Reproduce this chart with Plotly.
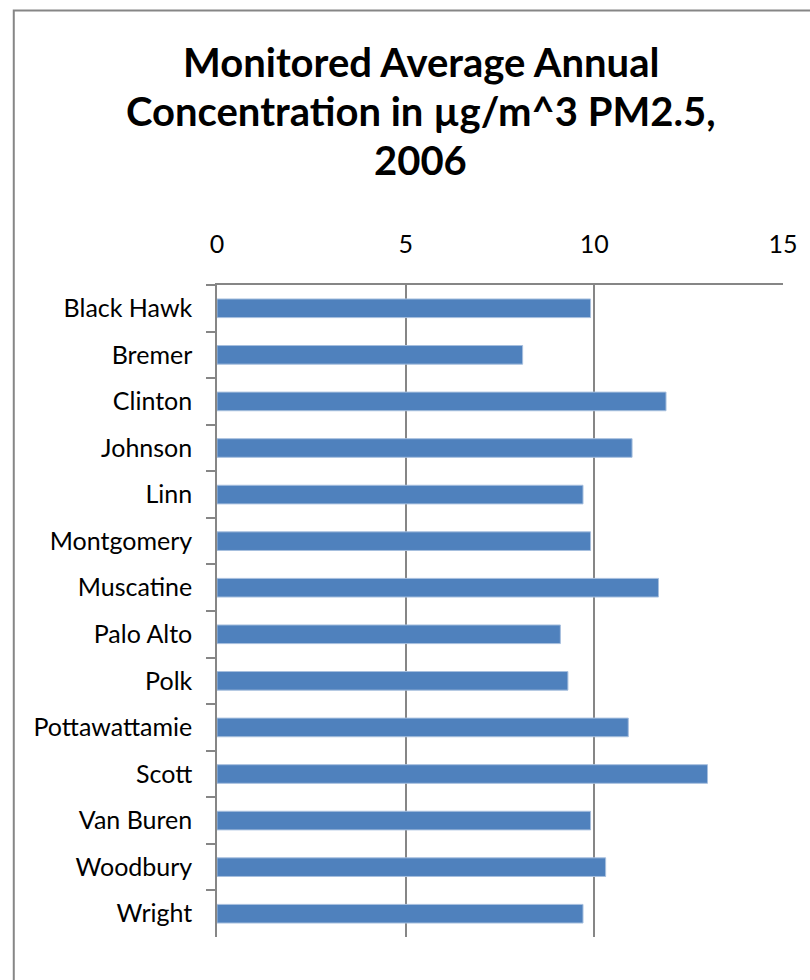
import plotly.graph_objects as go

counties = ["Black Hawk", "Bremer", "Clinton", "Johnson", "Linn", "Montgomery",
            "Muscatine", "Palo Alto", "Polk", "Pottawattamie", "Scott",
            "Van Buren", "Woodbury", "Wright"]
pm25 = [9.9, 8.1, 11.9, 11.0, 9.7, 9.9, 11.7, 9.1, 9.3, 10.9, 13.0, 9.9, 10.3, 9.7]
x_ticks = [0, 5, 10, 15]
title_lines = ["Monitored Average Annual", "Concentration in µg/m^3 PM2.5,", "2006"]

W, H = 810, 980
ML, MR, MT, MB = 217, 24, 285, 43
PW = W - ML - MR
PH = H - MT - MB

def px_x(p):
    return (p - ML) / PW

def px_y(p):
    return (H - MB - p) / PH

GRAY = "#868686"
FONT = "Lato, Carlito, Calibri, sans-serif"

fig = go.Figure()
fig.add_trace(go.Bar(
    y=counties, x=pm25, orientation="h",
    marker=dict(color="#4F81BD", line=dict(color="#A7BFDE", width=1)),
    hoverinfo="x+y",
))

annotations = []
for line, yc in zip(title_lines, [62, 111, 160]):
    annotations.append(dict(
        text="<b>%s</b>" % line, xref="paper", yref="paper",
        x=px_x(422), y=px_y(yc), xanchor="center", yanchor="middle",
        showarrow=False, font=dict(family=FONT, size=40, color="#000000"),
    ))

fig.update_layout(
    width=W, height=H,
    margin=dict(l=ML, r=MR, t=MT, b=MB, pad=0),
    paper_bgcolor="white", plot_bgcolor="white",
    showlegend=False,
    bargap=0.6,
    font=dict(family=FONT, size=25, color="#000000"),
    annotations=annotations,
    shapes=[dict(type="rect", xref="paper", yref="paper",
                 x0=px_x(12.7), x1=px_x(840), y0=px_y(1010), y1=px_y(10.5),
                 line=dict(color=GRAY, width=2), fillcolor="rgba(0,0,0,0)",
                 layer="above")],
)

fig.update_xaxes(
    side="top", range=[0, 15], tickvals=x_ticks, ticktext=[str(v) for v in x_ticks],
    showgrid=True, gridcolor=GRAY, gridwidth=1.5,
    showline=True, linecolor=GRAY, linewidth=1.5,
    zeroline=False, ticks="", ticklabelstandoff=20,
    tickfont=dict(family=FONT, size=25, color="#000000"),
    fixedrange=True,
)
fig.update_yaxes(
    type="category", autorange="reversed",
    showline=True, linecolor=GRAY, linewidth=1.5,
    ticks="outside", tickson="boundaries", ticklen=9, tickcolor=GRAY, tickwidth=1.5,
    showgrid=False, ticklabelstandoff=18,
    tickfont=dict(family=FONT, size=25, color="#000000"),
    fixedrange=True,
)

fig.write_html(
    "out.html",
    config={"displayModeBar": False},
    post_script="document.body.style.margin='0';document.body.style.overflow='hidden';",
)
